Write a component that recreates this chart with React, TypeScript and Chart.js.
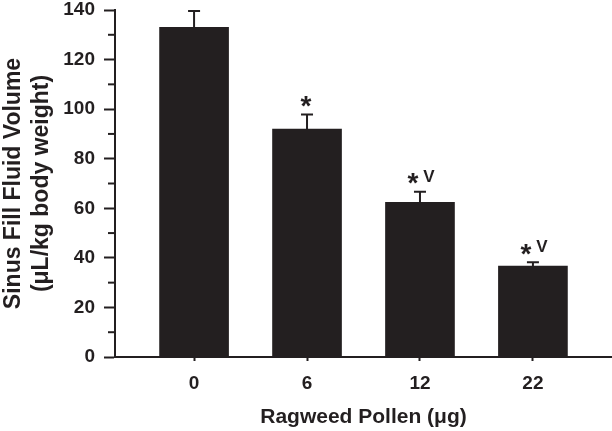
import React, { useEffect, useRef } from "react";
import { Chart, registerables } from "chart.js";

Chart.register(...registerables);

const categories = ["0", "6", "12", "22"];
const means = [133, 92, 62.4, 36.7];
const errors = [6.6, 5.8, 4.3, 1.5];
const starMarks = ["", "*", "*", "*"];
const vMarks = ["", "", "V", "V"];
const yMajorTicks = [0, 20, 40, 60, 80, 100, 120, 140];
const yMinorTicks = [10, 30, 50, 70, 90, 110, 130];

const INK = "#231f20";
const FONT = "'Liberation Sans', Arial, Helvetica, sans-serif";

const extrasPlugin = {
  id: "extras",
  afterDatasetsDraw(chart: any) {
    const { ctx, chartArea } = chart;
    const yScale = chart.scales.y;
    const meta = chart.getDatasetMeta(0);
    ctx.save();
    ctx.strokeStyle = INK;
    ctx.lineWidth = 2;
    yMinorTicks.forEach((v) => {
      const py = yScale.getPixelForValue(v);
      ctx.beginPath();
      ctx.moveTo(chartArea.left - 7, py);
      ctx.lineTo(chartArea.left, py);
      ctx.stroke();
    });
    meta.data.forEach((bar: any, i: number) => {
      const x = bar.x;
      const yBar = yScale.getPixelForValue(means[i]);
      const yTop = yScale.getPixelForValue(means[i] + errors[i]);
      ctx.strokeStyle = INK;
      ctx.lineWidth = 2;
      ctx.beginPath();
      ctx.moveTo(x, yBar);
      ctx.lineTo(x, yTop);
      ctx.moveTo(x - 6, yTop);
      ctx.lineTo(x + 6, yTop);
      ctx.stroke();

      ctx.fillStyle = INK;
      ctx.textAlign = "center";
      ctx.textBaseline = "alphabetic";
      const hasV = vMarks[i] !== "";
      if (starMarks[i]) {
        ctx.font = `bold 28px ${FONT}`;
        const m = ctx.measureText(starMarks[i]);
        const cy = yTop - 13;
        const base = cy + (m.actualBoundingBoxAscent - m.actualBoundingBoxDescent) / 2;
        ctx.fillText(starMarks[i], x + (hasV ? -7 : -1), base);
      }
      if (hasV) {
        ctx.font = `bold 17px ${FONT}`;
        const m = ctx.measureText(vMarks[i]);
        const cy = yTop - 16;
        const base = cy + (m.actualBoundingBoxAscent - m.actualBoundingBoxDescent) / 2;
        ctx.fillText(vMarks[i], x + 9, base);
      }
    });
    ctx.restore();
  },
};

export default function App() {
  const canvasRef = useRef<HTMLCanvasElement | null>(null);

  useEffect(() => {
    if (!canvasRef.current) return;
    const chart = new Chart(canvasRef.current, {
      type: "bar",
      data: {
        datasets: [
          {
            data: means.map((v, i) => ({ x: i, y: v })),
            backgroundColor: INK,
            borderWidth: 0,
            barThickness: 69,
          },
        ],
      },
      options: {
        animation: false,
        responsive: true,
        maintainAspectRatio: false,
        layout: { padding: { top: 0, right: 0, left: 0, bottom: 0 } },
        plugins: {
          legend: { display: false },
          tooltip: { enabled: false },
        },
        scales: {
          x: {
            type: "linear",
            offset: false,
            min: -0.7,
            max: 3.7,
            afterBuildTicks: (axis: any) => {
              axis.ticks = categories.map((_, i) => ({ value: i }));
            },
            afterFit: (s: any) => {
              s.height = 74;
              s.paddingLeft = 0;
              s.paddingRight = 0;
            },
            grid: {
              offset: false,
              drawOnChartArea: false,
              drawTicks: true,
              tickLength: 4,
              tickWidth: 2,
              tickColor: INK,
            },
            border: { display: true, color: INK, width: 2 },
            ticks: {
              autoSkip: false,
              maxRotation: 0,
              padding: 11,
              color: INK,
              font: { family: FONT, weight: "bold", size: 19 },
              callback: (v: any) => categories[Math.round(Number(v))] ?? "",
            },
            title: {
              display: true,
              text: "Ragweed Pollen (μg)",
              color: INK,
              font: { family: FONT, weight: "bold", size: 21 },
              padding: { top: 0, bottom: 1 },
            },
          },
          y: {
            min: 0,
            max: 140,
            afterBuildTicks: (axis: any) => {
              axis.ticks = yMajorTicks.map((v) => ({ value: v }));
            },
            afterFit: (s: any) => {
              s.width = 115;
              s.paddingTop = 10;
              s.paddingBottom = 0;
            },
            grid: {
              drawOnChartArea: false,
              drawTicks: true,
              tickLength: 11,
              tickWidth: 2,
              tickColor: INK,
            },
            border: { display: true, color: INK, width: 2 },
            ticks: {
              autoSkip: false,
              padding: 9,
              color: INK,
              font: { family: FONT, weight: "bold", size: 19 },
            },
            title: {
              display: true,
              text: ["Sinus Fill Fluid Volume", "(μL/kg body weight)"],
              color: INK,
              font: { family: FONT, weight: "bold", size: 23, lineHeight: 1.22 },
              padding: { top: 0, bottom: 0 },
            },
          },
        },
      },
      plugins: [extrasPlugin],
    } as any);
    return () => chart.destroy();
  }, []);

  return (
    <div style={{ position: "absolute", left: 0, top: 0, width: 612, height: 431 }}>
      <canvas ref={canvasRef} />
    </div>
  );
}
